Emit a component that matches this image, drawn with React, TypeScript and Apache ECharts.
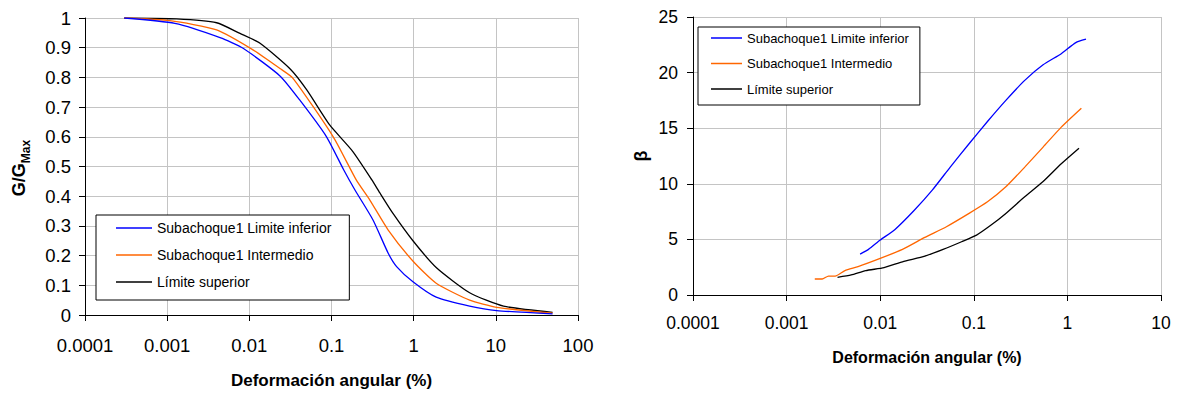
import React, { useEffect, useRef } from "react";
import * as echarts from "echarts";

const seriesNames = ["Subachoque1 Limite inferior", "Subachoque1 Intermedio", "Límite superior"];
const seriesColors = ["#0000ff", "#ff6600", "#000000"];

// Left chart: G/Gmax vs shear strain (%)
const ggInfX = [0.0003, 0.00124, 0.0044, 0.0084, 0.0236, 0.041, 0.087, 0.14, 0.193, 0.32, 0.49, 0.62, 0.98, 1.88, 4.8, 10.2, 49];
const ggInfY = [1.0, 0.982, 0.934, 0.898, 0.805, 0.724, 0.6, 0.49, 0.421, 0.32, 0.208, 0.163, 0.112, 0.06, 0.03, 0.015, 0.004];
const ggIntX = [0.0003, 0.00108, 0.004, 0.0112, 0.0236, 0.034, 0.105, 0.2, 0.293, 0.49, 0.99, 1.88, 4.8, 10.2, 49];
const ggIntY = [1.0, 0.991, 0.96, 0.892, 0.83, 0.797, 0.6, 0.455, 0.387, 0.286, 0.18, 0.107, 0.05, 0.026, 0.006];
const ggSupX = [0.0003, 0.0013, 0.004, 0.0077, 0.0135, 0.031, 0.05, 0.095, 0.18, 0.31, 0.388, 0.56, 0.98, 1.88, 4.8, 12.4, 49];
const ggSupY = [1.0, 0.997, 0.984, 0.948, 0.915, 0.83, 0.758, 0.64, 0.552, 0.455, 0.411, 0.342, 0.25, 0.16, 0.075, 0.03, 0.009];

// Right chart: beta vs shear strain (%)
const bInfX = [0.0061, 0.0075, 0.01, 0.0144, 0.023, 0.036, 0.056, 0.089, 0.14, 0.22, 0.35, 0.55, 0.86, 1.23, 1.58];
const bInfY = [3.68, 4.1, 4.94, 5.9, 7.6, 9.43, 11.5, 13.6, 15.6, 17.5, 19.3, 20.7, 21.7, 22.7, 23.0];
const bIntX = [0.002, 0.0024, 0.0028, 0.0033, 0.0042, 0.0058, 0.01, 0.0173, 0.03, 0.051, 0.089, 0.14, 0.22, 0.35, 0.55, 0.86, 1.41];
const bIntY = [1.44, 1.44, 1.7, 1.7, 2.19, 2.55, 3.29, 4.1, 5.18, 6.14, 7.34, 8.38, 9.73, 11.5, 13.3, 15.1, 16.8];
const bSupX = [0.0035, 0.0049, 0.007, 0.011, 0.0173, 0.03, 0.047, 0.074, 0.107, 0.153, 0.22, 0.35, 0.55, 0.86, 1.33];
const bSupY = [1.59, 1.8, 2.19, 2.46, 2.99, 3.5, 4.1, 4.79, 5.39, 6.29, 7.34, 8.83, 10.2, 11.8, 13.2];

const xTitle = "Deformación angular (%)";

const FONT = 'Arial, "Liberation Sans", sans-serif';

const zip = (xs: number[], ys: number[]) => xs.map((x, i) => [x, ys[i]]);

export default function App() {
  const ref = useRef<HTMLDivElement>(null);
  useEffect(() => {
    if (!ref.current) return;
    const chart = echarts.init(ref.current, null, { renderer: "svg" });
    const axisLine = { show: true, onZero: false, lineStyle: { color: "#000", width: 1 } };
    const axisTick = { show: true, inside: false, length: 6, lineStyle: { color: "#000", width: 1 } };
    const splitLine = { show: true, lineStyle: { color: "#c4c4c4", width: 1 } };
    const logFmt = (v: number) => String(Number(v.toPrecision(6)));
    const pairs = [
      [zip(ggInfX, ggInfY), zip(ggIntX, ggIntY), zip(ggSupX, ggSupY)],
      [zip(bInfX, bInfY), zip(bIntX, bIntY), zip(bSupX, bSupY)],
    ];
    const series: any[] = [];
    pairs.forEach((grp, gi) => {
      grp.forEach((d, si) => {
        series.push({
          type: "line",
          name: seriesNames[si],
          xAxisIndex: gi,
          yAxisIndex: gi,
          data: d,
          symbol: "none",
          smooth: 0.2,
          lineStyle: { color: seriesColors[si], width: 1.3 },
          itemStyle: { color: seriesColors[si] },
          z: 3 - si,
        });
      });
    });
    const legendBase = {
      orient: "vertical",
      borderColor: "#000",
      borderWidth: 1,
      backgroundColor: "#fff",
      selectedMode: false,
      icon: "rect",
      data: seriesNames,
      z: 10,
    };
    chart.setOption({
      animation: false,
      grid: [
        { left: 85, top: 18, width: 493, height: 297 },
        { left: 693, top: 17, width: 468, height: 278 },
      ],
      xAxis: [
        {
          type: "log", logBase: 10, min: 0.0001, max: 100, gridIndex: 0,
          axisLine, axisTick, splitLine, minorTick: { show: false }, minorSplitLine: { show: false },
          axisLabel: { color: "#000", fontSize: 18.5, fontFamily: FONT, margin: 21, formatter: logFmt },
          name: xTitle, nameLocation: "middle", nameGap: 57,
          nameTextStyle: { color: "#000", fontSize: 17, fontWeight: "bold", fontFamily: FONT },
        },
        {
          type: "log", logBase: 10, min: 0.0001, max: 10, gridIndex: 1,
          axisLine, axisTick, splitLine, minorTick: { show: false }, minorSplitLine: { show: false },
          axisLabel: { color: "#000", fontSize: 17.5, fontFamily: FONT, margin: 19, formatter: logFmt },
          name: xTitle, nameLocation: "middle", nameGap: 54,
          nameTextStyle: { color: "#000", fontSize: 16, fontWeight: "bold", fontFamily: FONT },
        },
      ],
      yAxis: [
        {
          type: "value", min: 0, max: 1, interval: 0.1, gridIndex: 0,
          axisLine, axisTick, splitLine,
          axisLabel: { color: "#000", fontSize: 18.5, fontFamily: FONT, margin: 14 },
        },
        {
          type: "value", min: 0, max: 25, interval: 5, gridIndex: 1,
          axisLine, axisTick, splitLine,
          axisLabel: { color: "#000", fontSize: 17.5, fontFamily: FONT, margin: 15 },
        },
      ],
      legend: [
        {
          ...legendBase,
          left: 96, top: 215,
          padding: [6, 18, 11, 20],
          itemGap: 13, itemWidth: 36, itemHeight: 1.5,
          textStyle: { color: "#000", fontSize: 14, fontFamily: FONT, lineHeight: 14 },
        },
        {
          ...legendBase,
          left: 698, top: 27,
          padding: [4, 11, 9, 13],
          itemGap: 11.5, itemWidth: 31, itemHeight: 1.5,
          textStyle: { color: "#000", fontSize: 13, fontFamily: FONT, lineHeight: 14 },
        },
      ],
      graphic: [
        {
          type: "text", x: 21, y: 168, rotation: Math.PI / 2,
          style: {
            text: "{a|G/G}{b|Max}",
            align: "center", verticalAlign: "middle", fill: "#000",
            rich: {
              a: { fontSize: 18, fontWeight: "bold", fontFamily: FONT, lineHeight: 22, verticalAlign: "top", fill: "#000" },
              b: { fontSize: 12, fontWeight: "bold", fontFamily: FONT, verticalAlign: "bottom", fill: "#000" },
            },
          },
        },
        {
          type: "text", x: 641, y: 156, rotation: Math.PI / 2,
          style: { text: "β", fontSize: 18, fontWeight: "bold", fontFamily: FONT, align: "center", verticalAlign: "middle", fill: "#000" },
        },
      ],
      series,
    });
    return () => chart.dispose();
  }, []);
  return <div ref={ref} style={{ position: "absolute", left: 0, top: 0, width: 1179, height: 394 }} />;
}
